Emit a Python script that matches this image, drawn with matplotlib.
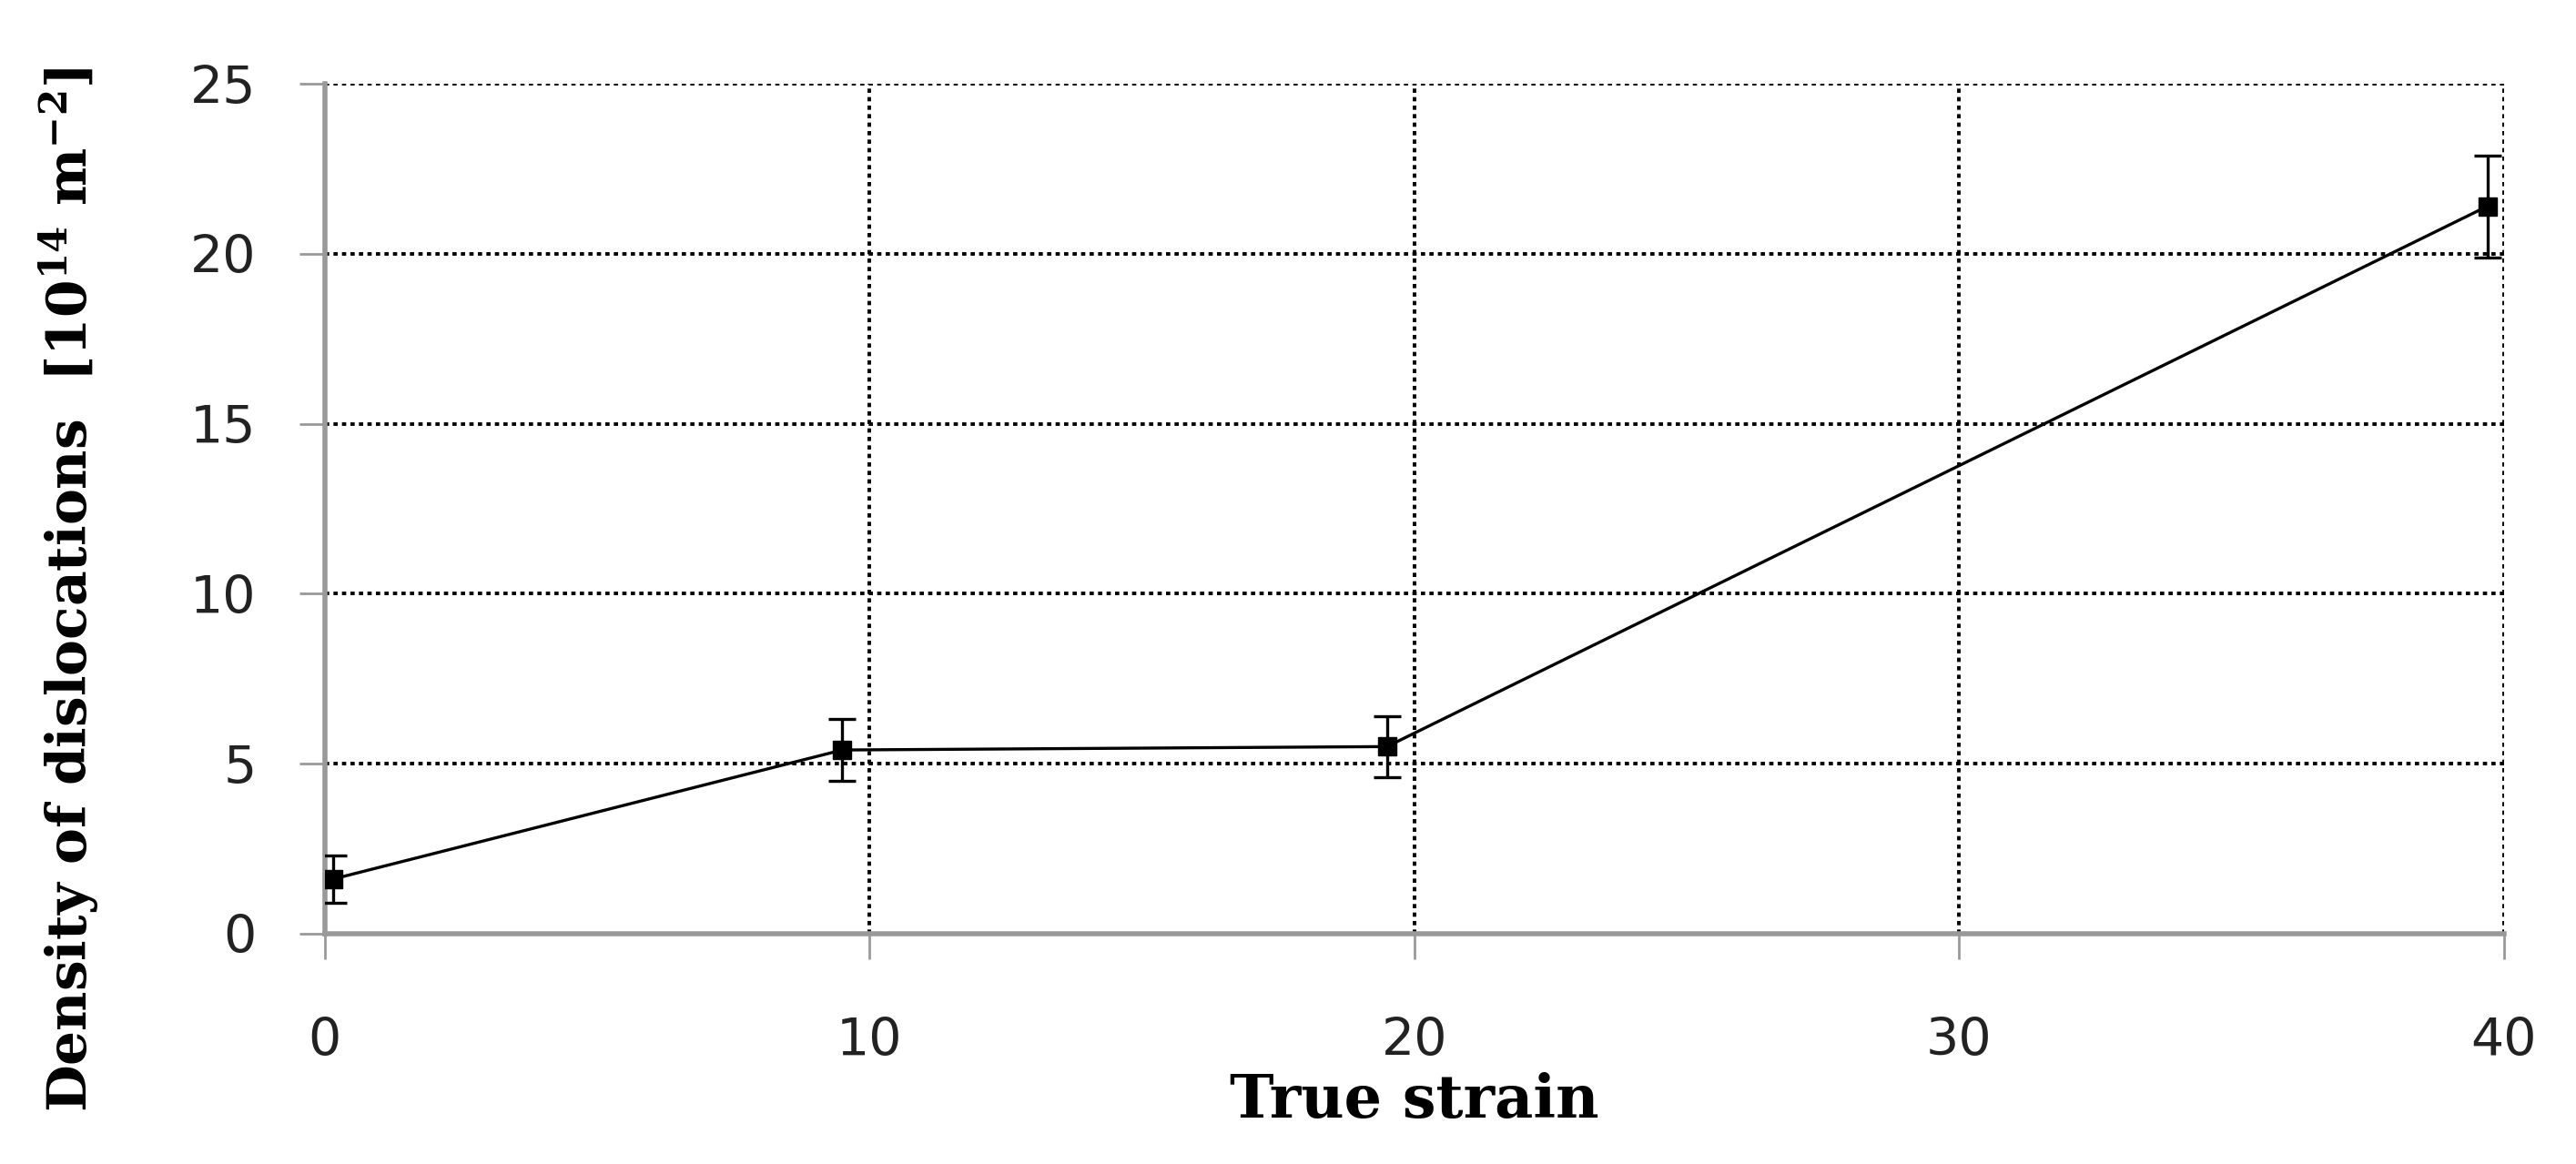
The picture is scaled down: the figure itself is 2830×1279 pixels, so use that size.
import matplotlib
matplotlib.use("Agg")
from matplotlib import pyplot as plt

strain = [0.15, 9.5, 19.5, 39.7]
density = [1.6, 5.4, 5.5, 21.4]
err = [0.7, 0.9, 0.9, 1.5]
xticks = [0, 10, 20, 30, 40]
yticks = [0, 5, 10, 15, 20, 25]

plt.rcParams['mathtext.fontset'] = 'dejavuserif'

fig = plt.figure(figsize=(28.3, 12.79), dpi=100)
ax = fig.add_axes([0.126, 0.198, 0.846, 0.73])

ax.errorbar(strain, density, yerr=err, color="black", lw=2.4, marker="s",
            markersize=15, capsize=11, capthick=2.4, elinewidth=2.4, zorder=5)

ax.set_xlim(0, 40)
ax.set_ylim(0, 25)
ax.set_xticks(xticks)
ax.set_yticks(yticks)
ax.grid(True, color="black", linestyle=(0, (1.2, 1.2)), lw=2.8)
ax.set_axisbelow(True)

for s in ["top", "right"]:
    ax.spines[s].set_visible(False)
for s in ["left", "bottom"]:
    ax.spines[s].set_color("#999999")
    ax.spines[s].set_linewidth(4)
    ax.spines[s].set_zorder(3)

ax.tick_params(axis="both", direction="out", length=20, width=2, color="#999999",
               labelsize=41, labelcolor="#222222")
ax.tick_params(axis="x", pad=46)
ax.tick_params(axis="y", pad=34)

ax.set_xlabel("True strain", fontsize=47, fontweight="bold",
              family="DejaVu Serif", labelpad=4)
ax.set_ylabel(r"Density of dislocations  [10$^{\mathbf{14}}$ m$^{\mathbf{-2}}$]",
              fontsize=43, fontweight="bold", family="DejaVu Serif")
ax.yaxis.set_label_coords(-0.102, 0.405)

fig.savefig("out.png", dpi=100)
